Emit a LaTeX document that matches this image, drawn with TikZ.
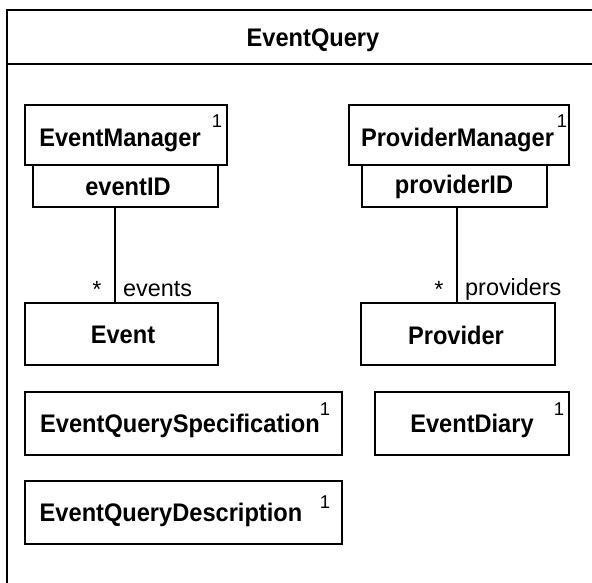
\documentclass[tikz,border=0pt]{standalone}
\usepackage{graphicx}
\usepackage{fontspec}
\setmainfont{Liberation Sans}
\newcommand\nb[1]{\scalebox{0.93}[1]{#1}}
\begin{document}
\begin{tikzpicture}[x=1pt,y=-1pt,
  box/.style={draw,line width=2pt,inner sep=0pt},
  title/.style={font=\fontsize{25.4}{30}\selectfont\bfseries,inner sep=0pt},
  lbl/.style={font=\fontsize{23.4}{28}\selectfont,inner sep=0pt},
  sup/.style={font=\fontsize{18.5}{20}\selectfont,inner sep=0pt},
  frame/.style={line width=2.5pt}]
\useasboundingbox (0,0) rectangle (592,583);
% outer package frame (clipped by the image border)
\coordinate (ftl) at (7,10);
\coordinate (fbl) at (7,583);
\coordinate (ftr) at (592,10);
\coordinate (fhl) at (7,64);
\coordinate (fhr) at (592,64);
\draw[frame,line cap=rect] (fbl) -- (ftl) -- (ftr);
\draw[frame] (fhl) -- (fhr);
\node[title] (pkg) at (313,40) {\nb{EventQuery}};
% boxes
\node[box,minimum width=202pt,minimum height=60pt] (em) at (126,135) {};
\node[box,minimum width=185pt,minimum height=42pt] (emq) at (125.5,186) {};
\node[box,minimum width=220pt,minimum height=60pt] (pm) at (459,135) {};
\node[box,minimum width=185pt,minimum height=42pt] (pmq) at (454.5,186) {};
\node[box,minimum width=193pt,minimum height=62pt] (ev) at (121.5,334) {};
\node[box,minimum width=194pt,minimum height=62pt] (pv) at (458,334) {};
\node[box,minimum width=317pt,minimum height=63pt] (eqs) at (183.5,423.5) {};
\node[box,minimum width=317pt,minimum height=63pt] (eqd) at (183.5,512.5) {};
\node[box,minimum width=194pt,minimum height=63pt] (ed) at (472,423.5) {};
% texts
\node[title] (emt) at (120,140) {\nb{EventManager}};
\node[sup] (ems) at (217,121) {1};
\node[title] (emqt) at (128,187) {\nb{eventID}};
\node[title] (pmt) at (457.5,140) {\nb{ProviderManager}};
\node[sup] (pms) at (562,121) {1};
\node[title] (pmqt) at (454,187) {\nb{providerID}};
\node[title] (evt) at (123,335) {\nb{Event}};
\node[title] (pvt) at (456,335) {\nb{Provider}};
\node[title] (eqst) at (180,426) {\nb{EventQuerySpecification}};
\node[sup] (eqss) at (325,409) {1};
\node[title] (eqdt) at (171,515) {\nb{EventQueryDescription}};
\node[sup] (eqds) at (325,502) {1};
\node[title] (edt) at (472,426) {\nb{EventDiary}};
\node[sup] (eds) at (559,409) {1};
% associations
\draw[line width=2pt] ([xshift=-10.5pt]emq.south) -- ([xshift=-6.5pt]ev.north);
\draw[line width=2pt] ([xshift=2.5pt]pmq.south) -- ([xshift=-1pt]pv.north);
\node[lbl] (est) at (97,289) {*};
\node[lbl,anchor=west] (evl) at (123,289) {events};
\node[lbl] (pst) at (439,289) {*};
\node[lbl,anchor=west] (pvl) at (465,289) {providers};
\end{tikzpicture}
\end{document}
